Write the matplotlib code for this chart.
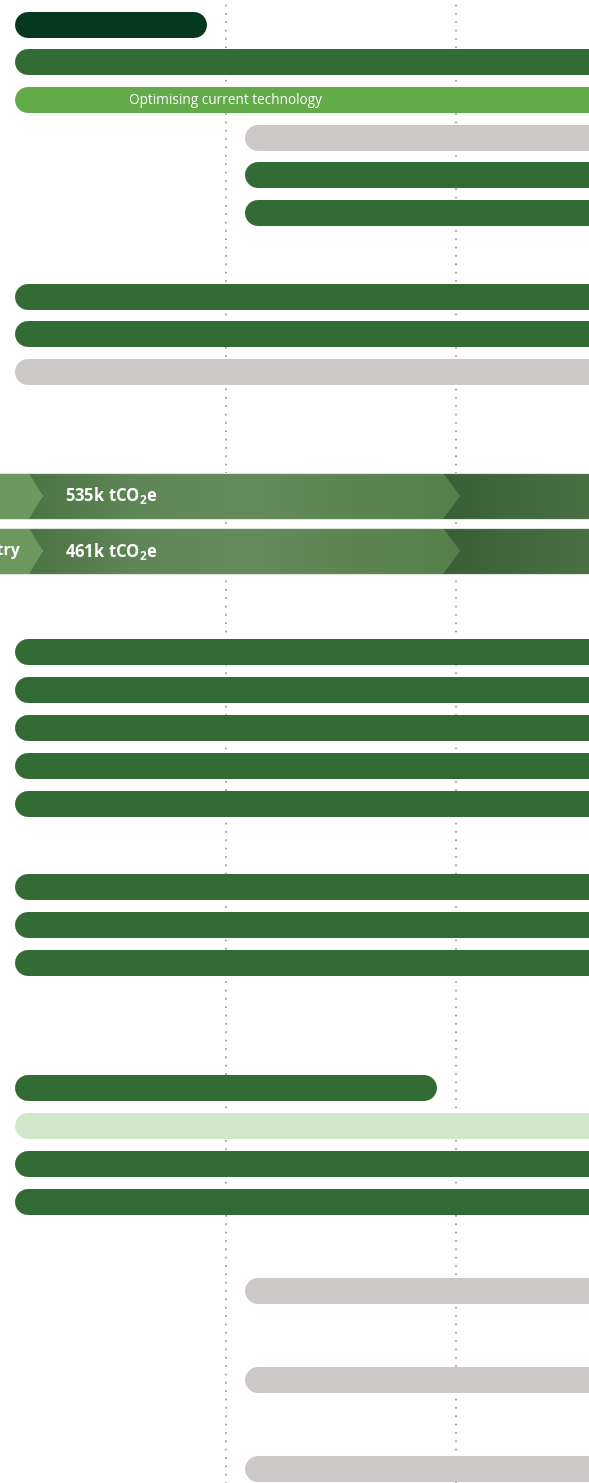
import matplotlib
matplotlib.use("Agg")
import matplotlib.pyplot as plt
import numpy as np
from matplotlib.patches import Polygon
from matplotlib.colors import LinearSegmentedColormap

plt.rcParams['font.family'] = ['Open Sans', 'DejaVu Sans']
plt.rcParams['mathtext.fontset'] = 'custom'
plt.rcParams['mathtext.bf'] = 'Open Sans:bold'
plt.rcParams['lines.scale_dashes'] = False

# bars: start / end phase (dotted lines sit on phase 1 and 2), colour kind, label
bar_start = [0, 0, 0, 1, 1, 1, 0, 0, 0,
             0, 0, 0, 0, 0, 0, 0, 0,
             0, 0, 0, 0, 1, 1, 1]
bar_end = [1, 3, 3, 3, 3, 3, 3, 3, 3,
           3, 3, 3, 3, 3, 3, 3, 3,
           2, 3, 3, 3, 3, 3, 3]
bar_kind = ['dark', 'green', 'light', 'grey', 'green', 'green', 'green', 'green', 'grey',
            'green', 'green', 'green', 'green', 'green', 'green', 'green', 'green',
            'green', 'pale', 'green', 'green', 'grey', 'grey', 'grey']
bar_label = ['', '', 'Optimising current technology', '', '', '', '', '', '',
             '', '', '', '', '', '', '', '',
             '', '', '', '', '', '', '']

# emission bands
band_label_left = ['', 'Industry']
band_value = ['535k tCO$_\\mathbf{2}$e', '461k tCO$_\\mathbf{2}$e']
band_breaks = [0.204, 2.018]

# layout (pixels from top)
row_y = [25, 62, 100, 138, 175, 213, 297, 334, 372,
         652, 690, 728, 766, 804, 887, 925, 963,
         1088, 1126, 1164, 1202, 1291, 1380, 1469]
band_y = [496, 551]
band_h = 46

colours = {'dark': '#06381d', 'green': '#336b35', 'light': '#62ab48',
           'grey': '#ccc8c7', 'pale': '#d0e7c9'}

PX = 230.0  # pixels per phase
fig = plt.figure(figsize=(5.89, 14.83), dpi=100)
ax = fig.add_axes([0, 0, 1, 1])
ax.set_xlim(4 / PX, 593 / PX)
ax.set_ylim(1483, 0)
ax.axis('off')

# dotted phase lines
for p in [1, 2]:
    ax.axvline(p, color='#9c9c9c', lw=1.5, linestyle=(0, (0.01, 6)),
               dash_capstyle='round', zorder=0)

bar_lw = 26 * 72 / 100
pad = 32 / PX
for s, e, k, lab, y in zip(bar_start, bar_end, bar_kind, bar_label, row_y):
    ax.plot([s + pad, e - pad], [y, y], color=colours[k], lw=bar_lw,
            solid_capstyle='round', zorder=2)
    if lab:
        ax.text((s + 2) / 2 if e > 2 else (s + e) / 2, y + 1, lab, color='white',
                fontsize=9.8, ha='center', va='center', zorder=3)

# chevron bands
depth = 17 / PX
cm_mid = LinearSegmentedColormap.from_list('mid', ['#4b7443', '#5f8656', '#658b5b', '#5c8551', '#55804c'])
cm_end = LinearSegmentedColormap.from_list('end', ['#395e37', '#416840', '#4a6f43'])
grad = np.linspace(0, 1, 256).reshape(1, -1)
x0, x1 = ax.get_xlim()
for y, left, val in zip(band_y, band_label_left, band_value):
    top, bot = y - band_h / 2, y + band_h / 2
    b1, b2 = band_breaks
    # last segment
    ax.imshow(grad, cmap=cm_end, extent=(b2 - depth - 0.02, x1, bot, top),
              aspect='auto', zorder=2)
    # middle segment
    poly2 = Polygon([(b1 - depth, top), (b2 - depth, top), (b2, y), (b2 - depth, bot),
                     (b1 - depth, bot), (b1, y)], closed=True, fc='none', ec='none')
    ax.add_patch(poly2)
    im2 = ax.imshow(grad, cmap=cm_mid, extent=(b1 - depth, b2, bot, top),
                    aspect='auto', zorder=3)
    im2.set_clip_path(poly2)
    # first segment
    d1 = 14 / PX
    ax.add_patch(Polygon([(x0 - 0.1, top), (b1 - d1, top), (b1, y), (b1 - d1, bot),
                          (x0 - 0.1, bot)], closed=True, fc='#6a985f', ec='none', zorder=4))
    for yy in [top, bot]:
        ax.plot([x0, x1], [yy, yy], color='#dde3db', lw=0.8, zorder=5)
    if left:
        ax.text((21 + 4) / PX, y, left, color='white', fontsize=11.5, fontweight='bold',
                ha='right', va='center', zorder=6)
    ax.text((65 + 4) / PX, y, val, color='white', fontsize=12, fontweight='bold',
            ha='left', va='center', zorder=6)

ax.set_ylim(1483, 0)
ax.set_xlim(x0, x1)
fig.savefig('out.png', dpi=100, facecolor='white')
